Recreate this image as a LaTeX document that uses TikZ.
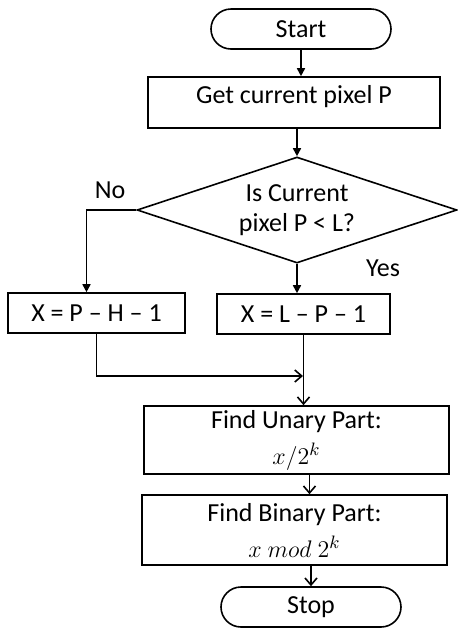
\documentclass[tikz,border=0pt]{standalone}
\usepackage{fontspec}
\setmainfont{Carlito}
\usetikzlibrary{shapes.geometric,shapes.misc,arrows.meta}
\begin{document}
\begin{tikzpicture}[x=0.5pt, y=-0.5pt, font=\fontsize{13}{15}\selectfont]
    \tikzset{box/.style={draw, line width=0.8pt, align=center, inner sep=2pt},
             term/.style={box, rounded rectangle, minimum width=94pt, minimum height=20pt},
             arr/.style={-{Triangle[length=4pt, width=4pt]}, line width=0.8pt},
             arrb/.style={-{Straight Barb[length=3.5pt, width=6pt]}, line width=0.8pt}}
    \useasboundingbox (0,0) rectangle (458,629);
    % top : start and input
    \node[term] (start) at (301,29) {Start};
    \node[box, minimum width=146pt, minimum height=25.5pt] (get) at (294,102.5) {};
    \node at (294,97) {Get current pixel P};
    % decision
    \node[box, diamond, shape aspect=3, minimum width=160pt, minimum height=53pt, inner sep=0pt] (dec)
        at (297,210) {Is Current\\pixel P < L?};
    \node at (110,190) {No};
    \node at (383,268) {Yes};
    % the two branches
    \node[box, minimum width=88.5pt, minimum height=20pt] (left) at (96.5,313) {X = P -- H -- 1};
    \node[box, minimum width=86.5pt, minimum height=20pt] (right) at (303.5,314) {X = L -- P -- 1};
    \coordinate (join) at (303,376);
    % coding steps
    \node[box, minimum width=152.5pt, minimum height=34pt] (unary) at (296.5,440)
        {Find Unary Part:\\[3pt] $x/2^k$};
    \node[box, minimum width=152.5pt, minimum height=35pt] (binary) at (294.5,530)
        {Find Binary Part:\\[3pt] $x\ mod\ 2^k$};
    \node[term] (stop) at (311,607) {Stop};
    % connectors
    \draw[arr] (start.south) -- (start.south |- get.north);
    \draw[arr] (dec.north |- get.south) -- (dec.north);
    \draw[arr] (dec.west) -| ([xshift=-5pt]left.north);
    \draw[arr] (dec.south) -- (dec.south |- right.north);
    \draw[arrb] (left.south) |- (join);
    \draw[arrb] (right.south) -- (right.south |- unary.north);
    \draw[arrb] ([xshift=6.5pt]unary.south) -- ([xshift=6.5pt]unary.south |- binary.north);
    \draw[arrb] (binary.south -| stop.north) -- (stop.north);
\end{tikzpicture}
\end{document}
